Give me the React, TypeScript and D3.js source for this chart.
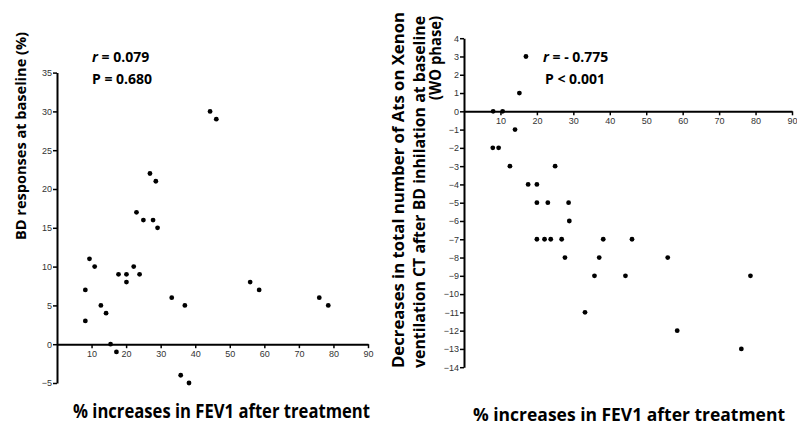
import React, { useRef, useEffect } from "react";
import * as d3 from "d3";

// left panel: BD response vs FEV1 increase
const leftFev1 = [8.2, 8.2, 9.4, 10.9, 12.7, 14.2, 15.5, 17.2, 17.8, 20.1, 20.1, 22.2, 23.9, 33.2, 37, 35.8, 38.2, 23, 25, 26.9, 28.6, 27.8, 29.1, 44.3, 46.1, 55.9, 58.5, 75.9, 78.5];
const leftBd = [7, 3, 11, 10, 5, 4, 0, -1, 9, 9, 8, 10, 9, 6, 5, -4, -5, 17, 16, 22, 21, 16, 15, 30, 29, 8, 7, 6, 5];

// right panel: decrease in Ats vs FEV1 increase
const rightFev1 = [17.0, 15.2, 8.0, 10.6, 14.0, 7.9, 9.5, 12.6, 25, 17.6, 20.0, 20.0, 23.0, 28.7, 28.9, 20.0, 22.1, 23.8, 26.8, 27.7, 38.2, 46.1, 37.1, 55.9, 35.8, 44.3, 78.6, 33.2, 58.5, 76.1];
const rightAts = [3, 1, 0, 0, -1, -2, -2, -3, -3, -4, -4, -5, -5, -5, -6, -7, -7, -7, -7, -8, -7, -7, -8, -8, -9, -9, -9, -11, -12, -13];

const xTicks = [10, 20, 30, 40, 50, 60, 70, 80, 90];
const leftYTicks = [-5, 0, 5, 10, 15, 20, 25, 30, 35];
const rightYTicks = d3.range(-14, 5);

const xTitle = "% increases in FEV1 after treatment";
const leftYTitle = "BD responses at baseline (%)";
const rightYTitle = ["Decreases in total number of Ats on Xenon", "ventilation CT after BD inhilation at baseline", "(WO phase)"];

const boldFont = "'Open Sans', 'Noto Sans', sans-serif";

const App = () => {
	const svgRef = useRef(null);

	useEffect(() => {
		const svg = d3.select(svgRef.current);
		svg.selectAll("*").remove();

		const styleAxis = (g) => {
			g.select(".domain").attr("stroke-width", 2).attr("stroke", "#000");
			g.selectAll(".tick line").attr("stroke-width", 1.5).attr("stroke", "#000");
			g.selectAll(".tick text").attr("font-family", "'Liberation Sans', Arial, sans-serif").attr("font-size", 9).attr("fill", "#333");
		};

		const panel = (xs, ys, xRange, yDomain, yRange, yTicks) => {
			const x = d3.scaleLinear().domain([0, 90]).range(xRange);
			const y = d3.scaleLinear().domain(yDomain).range(yRange);

			//x axis sits on zero
			svg.append("g")
				.attr("transform", `translate(0,${y(0)})`)
				.call(d3.axisBottom(x).tickValues(xTicks).tickSize(4).tickSizeOuter(0).tickPadding(2))
				.call(styleAxis);

			svg.append("g")
				.attr("transform", `translate(${x(0)},0)`)
				.call(d3.axisLeft(y).tickValues(yTicks).tickSize(4).tickSizeOuter(0).tickPadding(1).tickFormat(d3.format("d")))
				.call(styleAxis);

			svg.append("g")
				.selectAll("circle")
				.data(xs)
				.enter()
				.append("circle")
				.attr("cx", d => x(d))
				.attr("cy", (_, i) => y(ys[i]))
				.attr("r", 2.4)
				.attr("fill", "#000");
		};

		panel(leftFev1, leftBd, [57, 368], [-5, 35], [383, 72.6], leftYTicks);
		panel(rightFev1, rightAts, [464, 792], [-14, 4], [367.2, 38.2], rightYTicks);

		const stat = (x, y, label, rest) => {
			const t = svg.append("text")
				.attr("x", x).attr("y", y)
				.attr("font-family", boldFont).attr("font-weight", 700).attr("font-size", 14);
			if (label) t.append("tspan").attr("font-style", "italic").text(label);
			t.append("tspan").text(rest);
		};
		stat(92, 62, "r", " = 0.079");
		stat(92, 84, null, "P = 0.680");
		stat(543, 62, "r", " = - 0.775");
		stat(545, 84, null, "P < 0.001");

		//axis titles
		svg.append("text")
			.attr("x", 73).attr("y", 418)
			.attr("textLength", 297).attr("lengthAdjust", "spacingAndGlyphs")
			.attr("font-family", boldFont).attr("font-weight", 700).attr("font-size", 19)
			.text(xTitle);
		svg.append("text")
			.attr("x", 473).attr("y", 421)
			.attr("textLength", 312).attr("lengthAdjust", "spacingAndGlyphs")
			.attr("font-family", boldFont).attr("font-weight", 700).attr("font-size", 18)
			.text(xTitle);

		svg.append("text")
			.attr("transform", "translate(26,240) rotate(-90)")
			.attr("textLength", 208).attr("lengthAdjust", "spacingAndGlyphs")
			.attr("font-family", boldFont).attr("font-weight", 700).attr("font-size", 15)
			.text(leftYTitle);

		const rightLines = [
			{ x: 404, y0: 368, len: 356 },
			{ x: 425, y0: 368, len: 352 },
			{ x: 441, y0: 100, len: 84 },
		];
		rightLines.forEach((l, i) => {
			svg.append("text")
				.attr("transform", `translate(${l.x},${l.y0}) rotate(-90)`)
				.attr("textLength", l.len).attr("lengthAdjust", "spacingAndGlyphs")
				.attr("font-family", boldFont).attr("font-weight", 700).attr("font-size", 16)
				.text(rightYTitle[i]);
		});
	});

	return (
		<div>
			<svg ref={svgRef} width={797} height={427} style={{ position: "absolute", left: 0, top: 0, background: "#fff" }}>
			</svg>
		</div>
	);
};

export default App;
